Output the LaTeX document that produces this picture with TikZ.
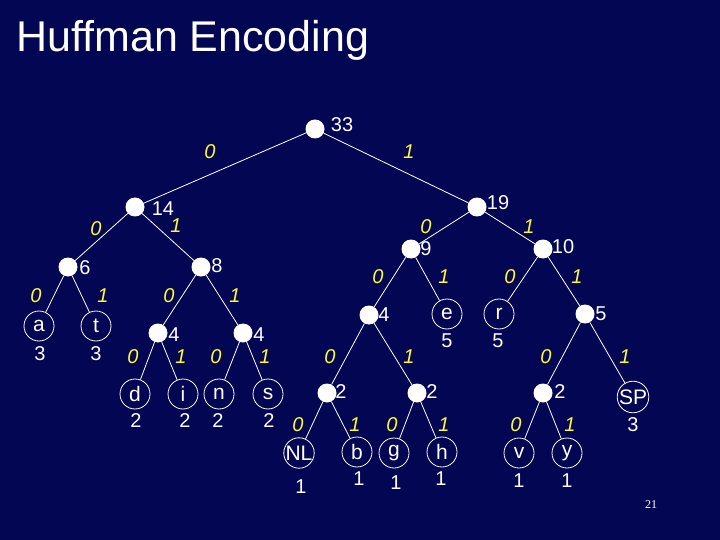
\documentclass[tikz,border=0pt]{standalone}
\usepackage{fontspec}
\setmainfont{Liberation Sans}
\newfontfamily\serifpn{Liberation Serif}
\definecolor{bgnavy}{RGB}{3,6,82}
\definecolor{bityellow}{RGB}{255,250,40}
\begin{document}
\begin{tikzpicture}[x=1pt,y=-1pt,
  inner/.style={circle, fill=white, minimum size=19pt, inner sep=0pt},
  leaf/.style={circle, draw=white, line width=0.8pt, minimum size=30pt, inner sep=0pt, text=white, font=\fontsize{21}{24}\selectfont},
  wt/.style={text=white, inner sep=0pt, font=\fontsize{20}{24}\selectfont},
  bit/.style={text=bityellow, inner sep=0pt, font=\fontsize{20}{24}\selectfont\itshape},
  edge/.style={draw=white, line width=0.8pt}]
\fill[bgnavy] (0,0) rectangle (720,540);
\useasboundingbox (0,0) rectangle (720,540);
\node[anchor=base west, text=white, inner sep=0pt, font=\fontsize{43}{50}\selectfont] (title) at (16,52) {Huffman Encoding};
\node[text=white, inner sep=0pt, font=\serifpn\fontsize{12}{14}\selectfont] (pnum) at (651,505) {21};
% inner nodes
\node[inner] (n33) at (315,129) {};
\node[inner] (n14) at (135,207) {};
\node[inner] (n19) at (477,207) {};
\node[inner] (n6) at (68,267) {};
\node[inner] (n8) at (201,267) {};
\node[inner] (n9) at (411,249) {};
\node[inner] (n10) at (543,249) {};
\node[inner] (n4a) at (158,333) {};
\node[inner] (n4b) at (243,333) {};
\node[inner] (n4c) at (369,315) {};
\node[inner] (n5) at (585,314) {};
\node[inner] (n2a) at (327,393) {};
\node[inner] (n2b) at (417,393) {};
\node[inner] (n2c) at (543,393) {};
% leaves
\node[leaf] (la) at (39,326) {a};
\node[leaf] (lt) at (96,326) {t};
\node[leaf] (ld) at (135,394) {d};
\node[leaf] (li) at (183,394) {i};
\node[leaf] (ln) at (219,394) {n};
\node[leaf] (ls) at (268,394) {s};
\node[leaf] (le) at (447,314) {e};
\node[leaf] (lr) at (499,314) {r};
\node[leaf] (lsp) at (633,397) {SP};
\node[leaf] (lnl) at (299,453) {NL};
\node[leaf] (lb) at (357,452) {b};
\node[leaf] (lg) at (394,453) {g};
\node[leaf] (lh) at (442,452) {h};
\node[leaf] (lv) at (519,453) {v};
\node[leaf] (ly) at (567,453) {y};
% edges
\draw[edge] (n33) -- (n14);
\draw[edge] (n33) -- (n19);
\draw[edge] (n14) -- (n6);
\draw[edge] (n14) -- (n8);
\draw[edge] (n6) -- (la);
\draw[edge] (n6) -- (lt);
\draw[edge] (n8) -- (n4a);
\draw[edge] (n8) -- (n4b);
\draw[edge] (n4a) -- (ld);
\draw[edge] (n4a) -- (li);
\draw[edge] (n4b) -- (ln);
\draw[edge] (n4b) -- (ls);
\draw[edge] (n19) -- (n9);
\draw[edge] (n19) -- (n10);
\draw[edge] (n9) -- (n4c);
\draw[edge] (n9) -- (le);
\draw[edge] (n10) -- (lr);
\draw[edge] (n10) -- (n5);
\draw[edge] (n4c) -- (n2a);
\draw[edge] (n4c) -- (n2b);
\draw[edge] (n2a) -- (lnl);
\draw[edge] (n2a) -- (lb);
\draw[edge] (n2b) -- (lg);
\draw[edge] (n2b) -- (lh);
\draw[edge] (n5) -- (n2c);
\draw[edge] (n5) -- (lsp);
\draw[edge] (n2c) -- (lv);
\draw[edge] (n2c) -- (ly);
% inner weights
\node[wt] (w33) at (342,125) {33};
\node[wt] (w19) at (498,203) {19};
\node[wt] (w14) at (163,209) {14};
\node[wt] (w6) at (85,268) {6};
\node[wt] (w8) at (217,266) {8};
\node[wt] (w9) at (426,249) {9};
\node[wt] (w10) at (563,247) {10};
\node[wt] (w4a) at (174,335) {4};
\node[wt] (w4b) at (259,335) {4};
\node[wt] (w4c) at (384,315) {4};
\node[wt] (w5) at (601,314) {5};
\node[wt] (w2a) at (341,392) {2};
\node[wt] (w2b) at (432,392) {2};
\node[wt] (w2c) at (560,392) {2};
% leaf weights
\node[wt] (wa) at (40,354) {3};
\node[wt] (wt) at (96,354) {3};
\node[wt] (wd) at (136,421) {2};
\node[wt] (wi) at (185,421) {2};
\node[wt] (wn) at (218,421) {2};
\node[wt] (ws) at (269,421) {2};
\node[wt] (we) at (447,341) {5};
\node[wt] (wr) at (498,341) {5};
\node[wt] (wsp) at (633,425) {3};
\node[wt] (wnl) at (301,487) {1};
\node[wt] (wb) at (359,479) {1};
\node[wt] (wg) at (396,483) {1};
\node[wt] (wh) at (441,479) {1};
\node[wt] (wv) at (519,481) {1};
\node[wt] (wy) at (567,481) {1};
% bit labels
\node[bit] (b33l) at (210,152) {0};
\node[bit] (b33r) at (409,152) {1};
\node[bit] (b14l) at (96,229) {0};
\node[bit] (b14r) at (176,226) {1};
\node[bit] (b19l) at (426,227) {0};
\node[bit] (b19r) at (529,227) {1};
\node[bit] (b6l) at (36,296) {0};
\node[bit] (b6r) at (103,296) {1};
\node[bit] (b8l) at (169,296) {0};
\node[bit] (b8r) at (235,296) {1};
\node[bit] (b9l) at (378,277) {0};
\node[bit] (b9r) at (444,277) {1};
\node[bit] (b10l) at (510,277) {0};
\node[bit] (b10r) at (577,277) {1};
\node[bit] (b4al) at (133,357) {0};
\node[bit] (b4ar) at (181,357) {1};
\node[bit] (b4bl) at (216,357) {0};
\node[bit] (b4br) at (265,357) {1};
\node[bit] (b4cl) at (330,357) {0};
\node[bit] (b4cr) at (409,357) {1};
\node[bit] (b5l) at (546,357) {0};
\node[bit] (b5r) at (625,357) {1};
\node[bit] (b2al) at (298,425) {0};
\node[bit] (b2ar) at (355,425) {1};
\node[bit] (b2bl) at (392,425) {0};
\node[bit] (b2br) at (444,425) {1};
\node[bit] (b2cl) at (516,425) {0};
\node[bit] (b2cr) at (570,425) {1};
\end{tikzpicture}
\end{document}
